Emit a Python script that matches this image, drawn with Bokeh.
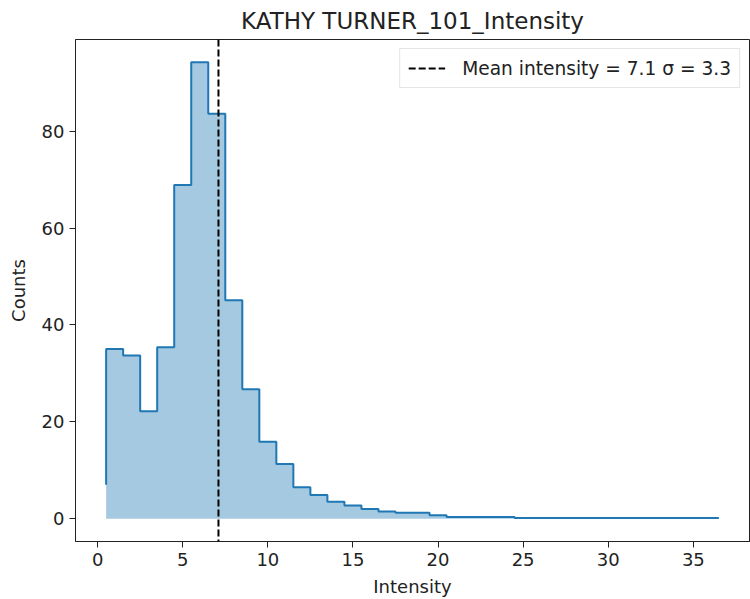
from bokeh.plotting import figure
from bokeh.models import Range1d, Span, Legend, LegendItem, FixedTicker, ColumnDataSource
from bokeh.embed import file_html
from bokeh.resources import INLINE

# ---- data ----
bin_edges = [0.5, 1.5, 2.5, 3.5, 4.5, 5.5, 6.5, 7.5, 8.5, 9.5, 10.5, 11.5,
             12.5, 13.5, 14.5, 15.5, 16.5, 17.5, 18.5, 19.5, 20.5, 24.5, 36.5]
# "pre" step values: first value is the starting level at the first edge
counts = [7.0, 35.0, 33.7, 22.2, 35.4, 68.9, 94.2, 83.6, 45.1, 26.7, 15.9, 11.3,
          6.5, 4.9, 3.5, 2.7, 2.0, 1.5, 1.25, 1.2, 0.7, 0.35, 0.12]
mean_intensity = 7.1
sigma_intensity = 3.3
x_ticks = [0, 5, 10, 15, 20, 25, 30, 35]
y_ticks = [0, 20, 40, 60, 80]
title_text = "KATHY TURNER_101_Intensity"

FONT = "DejaVu Sans"
LINE_C = "#1f77b4"
TXT_C = "#222222"

xmin, xmax = min(bin_edges), max(bin_edges)
xpad = (xmax - xmin) * 0.05
ymax = max(counts)
ypad = ymax * 0.05

src = ColumnDataSource(dict(x=bin_edges, y=counts, zero=[0] * len(counts)))

p = figure(width=750, height=599,
           x_range=Range1d(xmin - xpad, xmax + xpad),
           y_range=Range1d(-ypad, ymax + ypad),
           output_backend="svg", toolbar_location=None,
           min_border_left=75, min_border_right=1,
           min_border_top=38, min_border_bottom=57)

p.varea_step(x="x", y1="zero", y2="y", step_mode="before", source=src,
             fill_color=LINE_C, fill_alpha=0.4)
p.step(x="x", y="y", mode="before", source=src, line_color=LINE_C, line_width=2)

span = Span(location=mean_intensity, dimension="height", line_color="black",
            line_width=2, line_dash="7 3")
p.add_layout(span)
# one-point line: draws nothing in the plot, only provides the legend glyph
legend_r = p.line(x=[mean_intensity], y=[0], line_color="black", line_width=2,
                  line_dash="7 3")

legend = Legend(items=[LegendItem(label=f"Mean intensity = {mean_intensity} σ = {sigma_intensity}",
                                  renderers=[legend_r])],
                location="top_right")
legend.margin = 9
legend.padding = 8
legend.glyph_width = 37
legend.glyph_height = 22
legend.label_height = 22
legend.label_standoff = 17
legend.label_text_font = FONT
legend.label_text_font_size = "18.6px"
legend.label_text_color = TXT_C
legend.border_line_color = "#cccccc"
legend.border_line_width = 1
legend.background_fill_alpha = 0.8
p.add_layout(legend)

p.title.text = title_text
p.title.align = "center"
p.title.text_font = FONT
p.title.text_font_size = "23px"
p.title.text_font_style = "normal"
p.title.text_color = TXT_C
p.title.standoff = 11

p.grid.visible = False
p.outline_line_color = TXT_C
p.outline_line_width = 1

p.xaxis.ticker = FixedTicker(ticks=x_ticks)
p.yaxis.ticker = FixedTicker(ticks=y_ticks)
p.xaxis.axis_label = "Intensity"
p.yaxis.axis_label = "Counts"
for ax in (p.xaxis, p.yaxis):
    ax.axis_line_color = TXT_C
    ax.major_tick_line_color = TXT_C
    ax.major_tick_out = 6
    ax.major_tick_in = 0
    ax.minor_tick_line_color = None
    ax.major_label_text_font = FONT
    ax.major_label_text_font_size = "18px"
    ax.major_label_text_color = TXT_C
    ax.axis_label_text_font = FONT
    ax.axis_label_text_font_size = "18px"
    ax.axis_label_text_font_style = "normal"
    ax.axis_label_text_color = TXT_C
    ax.major_label_standoff = 5
p.xaxis.axis_label_standoff = 7
p.yaxis.axis_label_standoff = 10

open("out.html", "w").write(file_html(p, INLINE))
